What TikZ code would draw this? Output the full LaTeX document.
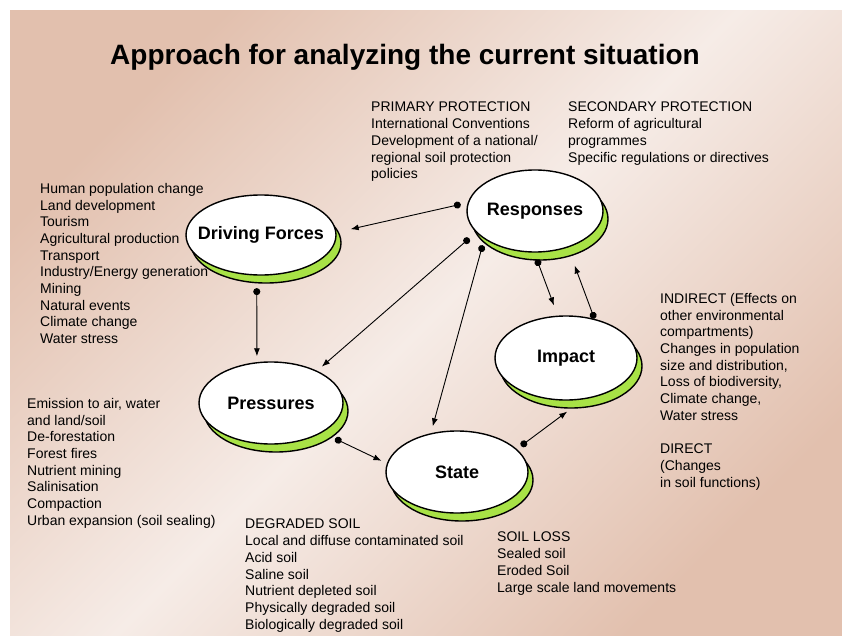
\documentclass[tikz,border=0pt]{standalone}
\usepackage{fontspec}
\setmainfont{Liberation Sans}
\usetikzlibrary{arrows.meta,shapes.geometric,shadows}
\definecolor{bgdark}{RGB}{226,192,174}
\definecolor{bglight}{RGB}{246,236,231}
\definecolor{shadowgreen}{RGB}{168,226,70}
\begin{document}
\begin{tikzpicture}[x=1pt,y=-1pt,
  bub/.style={ellipse, draw=black, line width=1.4pt, fill=white, inner sep=0pt,
    general shadow={fill=shadowgreen, draw=black, line width=1.4pt, shadow xshift=5pt, shadow yshift=-8pt}},
  lbl/.style={font=\fontsize{18}{20}\selectfont\bfseries, inner sep=0pt},
  txt/.style={font=\fontsize{14}{16.7}\selectfont, align=left, anchor=north west, inner sep=0pt},
  link/.style={line width=0.9pt, {Circle[length=7pt]}-{Latex[length=8pt,width=6pt]}},
]
\useasboundingbox (0,0) rectangle (842,636);
\fill[white] (0,0) rectangle (842,636);
\shade[left color=bgdark, right color=bgdark, middle color=bglight, shading angle=45] (10,11) rectangle (842,636);

\node[font=\fontsize{28}{32}\selectfont\bfseries, inner sep=0pt] (title) at (405,57) {Approach for analyzing the current situation};

\node[bub, minimum width=150pt, minimum height=80pt, label={[lbl]center:Driving Forces}] (df) at (261,235) {};
\node[bub, minimum width=136pt, minimum height=82pt, label={[lbl]center:Responses}] (resp) at (535,211) {};
\node[bub, minimum width=144pt, minimum height=82pt, label={[lbl]center:Pressures}] (pres) at (271,403) {};
\node[bub, minimum width=142pt, minimum height=82pt, label={[lbl]center:State}] (state) at (457,472) {};
\node[bub, minimum width=142pt, minimum height=84pt, label={[lbl]center:Impact}] (imp) at (566,358) {};

\draw[link, shorten <=7.1pt, shorten >=14.5pt] (resp.173) -- (df.2);
\draw[link, shorten <=12.5pt, shorten >=5.8pt] (df.264) -- (pres.109);
\draw[link, shorten <=9pt, shorten >=6.3pt] (resp.200) -- (pres.35);
\draw[link, shorten <=6.3pt, shorten >=7.1pt] (resp.209) -- (state.124);
\draw[link, shorten <=14.2pt, shorten >=6pt] (pres.330) -- (state.173);
\draw[link, shorten <=7.1pt, shorten >=10.9pt] (resp.269) -- (imp.101);
\draw[link, shorten <=0.2pt, shorten >=19.1pt] (imp.54) -- (resp.312);
\draw[link, shorten <=5.2pt, shorten >=20.4pt] (state.21) -- (imp.293);

\node[txt] (prim) at (371,102) {PRIMARY PROTECTION\\International Conventions\\Development of a national/\\regional soil protection\\policies};
\node[txt] (sec) at (568,102) {SECONDARY PROTECTION\\Reform of agricultural\\programmes\\Specific regulations or directives};
\node[txt] (drv) at (40,183) {Human population change\\Land development\\Tourism\\Agricultural production\\Transport\\Industry/Energy generation\\Mining\\Natural events\\Climate change\\Water stress};
\node[txt] (ind) at (660,293) {INDIRECT (Effects on\\other environmental\\compartments)\\Changes in population\\size and distribution,\\Loss of biodiversity,\\Climate change,\\Water stress\\[16.7pt]DIRECT\\(Changes\\in soil functions)};
\node[txt] (emi) at (27,398) {Emission to air, water\\and land/soil\\De-forestation\\Forest fires\\Nutrient mining\\Salinisation\\Compaction\\Urban expansion (soil sealing)};
\node[txt] (deg) at (245,519) {DEGRADED SOIL\\Local and diffuse contaminated soil\\Acid soil\\Saline soil\\Nutrient depleted soil\\Physically degraded soil\\Biologically degraded soil};
\node[txt] (loss) at (497,532) {SOIL LOSS\\Sealed soil\\Eroded Soil\\Large scale land movements};
\end{tikzpicture}
\end{document}
